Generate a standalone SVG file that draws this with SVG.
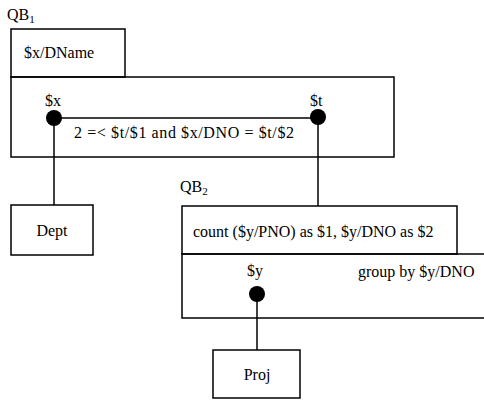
<svg xmlns="http://www.w3.org/2000/svg" width="484" height="400" viewBox="0 0 484 400">
<style>
text{font-family:"Liberation Serif","Times New Roman",serif;font-size:16px;fill:#000}
.sub{font-size:11px}
.box{fill:none;stroke:#000;stroke-width:1.5}
.ln{fill:none;stroke:#000;stroke-width:1.5}
.dot{fill:#000}
</style>
<rect width="484" height="400" fill="#fff"/>
<g id="QB1">
<text x="7" y="20">QB<tspan class="sub" dy="3">1</tspan></text>
<rect class="box" x="11" y="29" width="114" height="48"/>
<text x="24" y="58">$x/DName</text>
<rect class="box" x="11" y="77" width="383" height="80"/>
<text x="45" y="106">$x</text>
<text x="310" y="106">$t</text>
<text x="74" y="138" textLength="220">2 =&lt; $t/$1 and $x/DNO = $t/$2</text>
</g>
<g id="QB2">
<text x="180" y="192">QB<tspan class="sub" dy="3">2</tspan></text>
<rect class="box" x="182" y="206" width="275" height="48"/>
<text x="193" y="237">count ($y/PNO) as $1, $y/DNO as $2</text>
<path class="ln" d="M484 254H182V318H484"/>
<text x="247" y="276">$y</text>
<text x="358" y="277">group by $y/DNO</text>
</g>
<g id="Dept">
<rect class="box" x="11" y="205" width="82" height="50"/>
<text x="52" y="236" text-anchor="middle">Dept</text>
</g>
<g id="Proj">
<rect class="box" x="213" y="350" width="87" height="48"/>
<text x="257" y="380" text-anchor="middle">Proj</text>
</g>
<g id="connectors">
<path class="ln" d="M54 118H318"/>
<path class="ln" d="M54 118V205"/>
<path class="ln" d="M318 118V206"/>
<path class="ln" d="M257 294V350"/>
<circle class="dot" cx="54" cy="118" r="8"/>
<circle class="dot" cx="318" cy="117" r="8"/>
<circle class="dot" cx="257" cy="294" r="8"/>
</g>
</svg>
